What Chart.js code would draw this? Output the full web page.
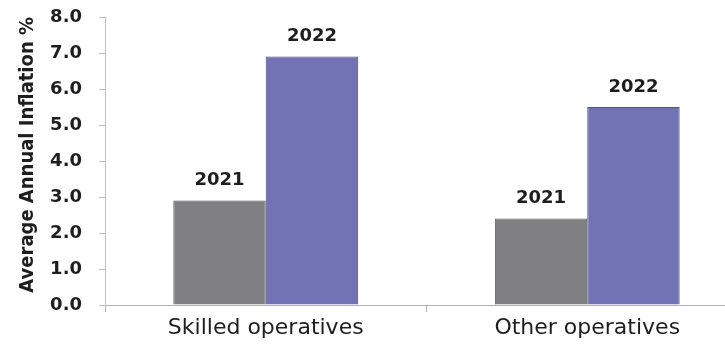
<!DOCTYPE html>
<html>
<head>
<meta charset="utf-8">
<script src="https://cdn.jsdelivr.net/npm/chart.js@4"></script>
<style>
  html, body { margin: 0; padding: 0; background: #fff; overflow: hidden; }
  #wrap { width: 748px; height: 345px; }
</style>
</head>
<body>
<div id="wrap"><canvas id="myChart"></canvas></div>
<script>
  // kategori dan nilai inflasi per tahun
  const categories = ["Skilled operatives", "Other operatives"];
  const years = ["2021", "2022"];
  const values2021 = [2.9, 2.4];
  const values2022 = [6.9, 5.5];

  // tulis label tahun di atas tiap batang
  const yearLabels = {
    id: "yearLabels",
    afterDatasetsDraw(chart) {
      const ctx = chart.ctx;
      ctx.save();
      ctx.font = "bold 18px 'DejaVu Sans'";
      ctx.fillStyle = "#1e1e1e";
      ctx.textAlign = "center";
      ctx.textBaseline = "bottom";
      chart.data.datasets.forEach((ds, i) => {
        chart.getDatasetMeta(i).data.forEach((bar) => {
          ctx.fillText(ds.label, bar.x, bar.y - 11);
        });
      });
      ctx.restore();
    },
  };

  const data = {
    labels: categories,
    datasets: [
      {
        label: years[0],
        data: values2021,
        backgroundColor: "rgb(128, 128, 131)",
        borderColor: "rgb(85, 85, 90)",
        borderWidth: 1,
      },
      {
        label: years[1],
        data: values2022,
        backgroundColor: "rgb(113, 115, 180)",
        borderColor: "rgb(80, 80, 130)",
        borderWidth: 1,
      },
    ],
  };

  const config = {
    type: "bar",
    data: data,
    options: {
      responsive: true,
      maintainAspectRatio: false,
      animation: false,
      barPercentage: 1,
      categoryPercentage: 0.575,
      layout: { padding: { top: 17, left: 0, right: 0, bottom: 0 } },
      plugins: {
        legend: { display: false },
        tooltip: { enabled: false },
      },
      scales: {
        x: {
          grid: { drawOnChartArea: false, tickLength: 7, color: "#b0b0b0" },
          border: { color: "#b0b0b0" },
          ticks: {
            color: "#1e1e1e",
            font: { family: "'DejaVu Sans'", size: 22 },
            padding: 3,
          },
          afterFit(scale) { scale.height = 40; },
        },
        y: {
          min: 0,
          max: 8,
          grid: { drawOnChartArea: false, tickLength: 6, color: "#c0c0c0" },
          border: { color: "#c0c0c0" },
          ticks: {
            stepSize: 1,
            color: "#1e1e1e",
            font: { family: "'DejaVu Sans'", size: 18, weight: "bold" },
            padding: 17,
            callback: (v) => v.toFixed(1),
          },
          title: {
            display: true,
            text: "Average Annual Inflation %",
            align: "end",
            color: "#1e1e1e",
            font: { family: "'Liberation Sans Narrow', 'DejaVu Sans Condensed'", size: 20, weight: "bold" },
            padding: { top: 16, bottom: 0 },
          },
          afterFit(scale) {
            scale.width = 105;
            // jangan biarkan padding label menggeser area chart
            scale.paddingTop = 0;
            scale.paddingBottom = 0;
          },
        },
      },
    },
    plugins: [yearLabels],
  };

  const myChart = new Chart(document.getElementById("myChart"), config);
</script>
</body>
</html>
